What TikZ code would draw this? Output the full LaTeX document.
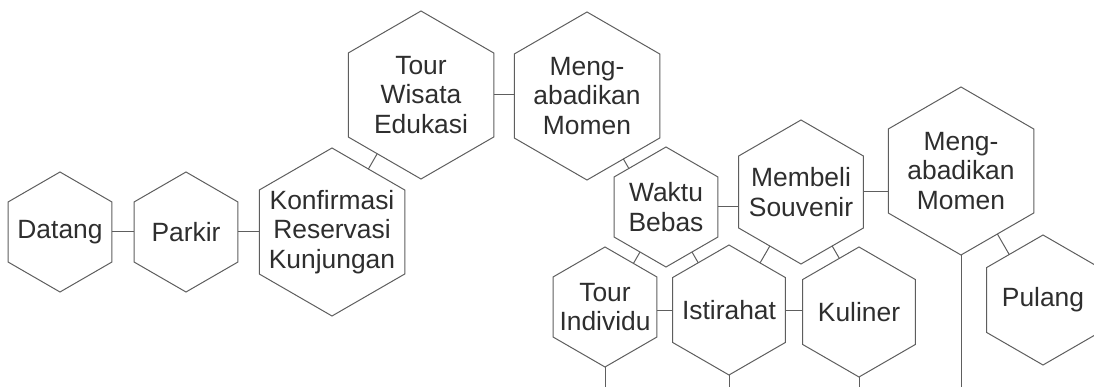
\documentclass[tikz,border=0pt]{standalone}
\usepackage{fontspec}
\setmainfont{Liberation Sans}
\usetikzlibrary{shapes.geometric,calc}
\definecolor{edgegray}{HTML}{5E5E5E}
\definecolor{ink}{HTML}{2E2E2E}
\tikzset{
  hexa/.style={regular polygon, regular polygon sides=6, shape border rotate=30,
    minimum size=#1, inner sep=0pt, outer sep=0pt, draw=edgegray, line width=1pt, fill=white},
  txt/.style={text=ink, align=center, inner sep=0pt, font=\fontsize{26.4}{29.5}\selectfont},
  link/.style={draw=edgegray, line width=1pt},
}
\begin{document}
\begin{tikzpicture}[x=1pt,y=-1pt]
\path[use as bounding box, clip] (0,0) rectangle (1094,387);
\coordinate (bot) at (0,390);
% hexagons
\node[hexa=120] (datang) at (60,232) {};
\node[txt] at (datang.center) {Datang};
\node[hexa=120] (parkir) at (186,232) {};
\node[txt] at (parkir.center) {Parkir};
\node[hexa=168] (konf) at (332,232) {};
\node[txt] at (konf.center) {Konfirmasi\\Reservasi\\Kunjungan};
\node[hexa=168] (tour) at (421,95) {};
\node[txt] at (tour.center) {Tour\\Wisata\\Edukasi};
\node[hexa=168] (meng1) at (587,96) {};
\node[txt] at (meng1.center) {Meng-\\abadikan\\Momen};
\node[hexa=120] (waktu) at (666,207) {};
\node[txt] at (waktu.center) {Waktu\\Bebas};
\node[hexa=144] (membeli) at (801,192) {};
\node[txt] at (membeli.center) {Membeli\\Souvenir};
\node[hexa=120] (tourind) at (605,307) {};
\node[txt] at (tourind.center) {Tour\\Individu};
\node[hexa=130] (ist) at (729,310) {};
\node[txt] at (ist.center) {Istirahat};
\node[hexa=130] (kul) at (859,312) {};
\node[txt] at (kul.center) {Kuliner};
\node[hexa=168] (meng2) at (961,171) {};
\node[txt] at (meng2.center) {Meng-\\abadikan\\Momen};
\node[hexa=130] (pulang) at (1043,300) {};
\node[txt] at (pulang.center) {Pulang};
% connectors
\draw[link] (datang.0) -- (parkir.180);
\draw[link] (parkir.0) -- (konf.180);
\draw[link] (konf.60) -- ($(tour.270)!(konf.60)!(tour.210)$);
\draw[link] (tour.0) -- ($(meng1.150)!(tour.0)!(meng1.210)$);
\draw[link] (meng1.300) -- ($(waktu.90)!(meng1.300)!(waktu.150)$);
\draw[link] (waktu.0) -- ($(membeli.150)!(waktu.0)!(membeli.210)$);
\draw[link] (membeli.0) -- ($(meng2.150)!(membeli.0)!(meng2.210)$);
\draw[link] (waktu.240) -- ($(tourind.90)!(waktu.240)!(tourind.30)$);
\draw[link] (waktu.300) -- ($(ist.90)!(waktu.300)!(ist.150)$);
\draw[link] (membeli.240) -- ($(ist.90)!(membeli.240)!(ist.30)$);
\draw[link] (membeli.300) -- ($(kul.90)!(membeli.300)!(kul.150)$);
\draw[link] (ist.180) -- ($(tourind.30)!(ist.180)!(tourind.330)$);
\draw[link] (ist.0) -- ($(kul.150)!(ist.0)!(kul.210)$);
\draw[link] (meng2.300) -- ($(pulang.90)!(meng2.300)!(pulang.150)$);
\draw[link] (tourind.270) -- (tourind.270 |- bot);
\draw[link] (ist.270) -- (ist.270 |- bot);
\draw[link] (kul.270) -- (kul.270 |- bot);
\draw[link] (meng2.270) -- (meng2.270 |- bot);
\end{tikzpicture}
\end{document}
